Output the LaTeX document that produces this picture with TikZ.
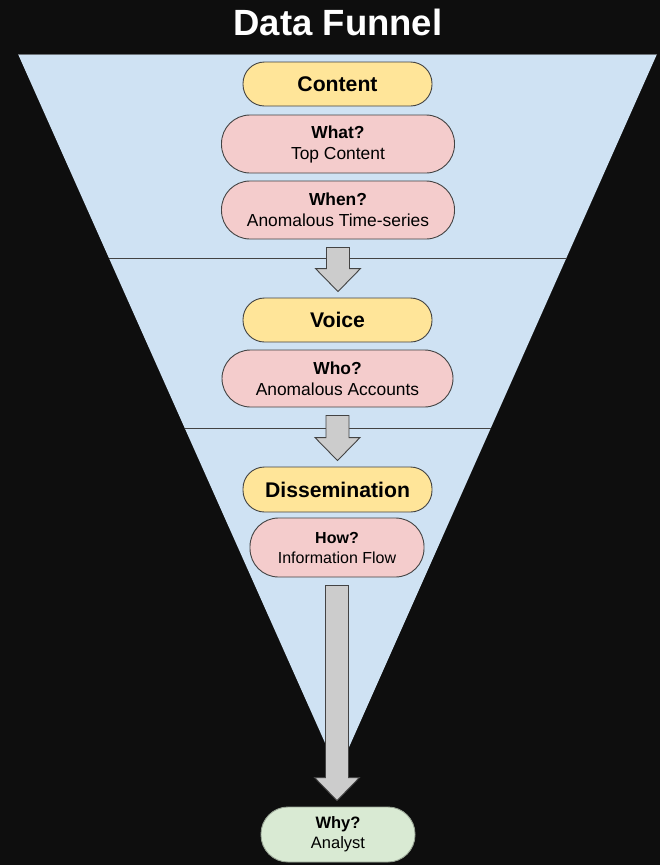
\documentclass[tikz,border=0pt]{standalone}
\usepackage{fontspec}
\setmainfont{Liberation Sans}
\usetikzlibrary{calc}

\definecolor{pagebg}{HTML}{0E0E0E}
\definecolor{funnelblue}{HTML}{CFE2F3}
\definecolor{stageyellow}{HTML}{FFE599}
\definecolor{askpink}{HTML}{F4CCCC}
\definecolor{analystgreen}{HTML}{D9EAD3}
\definecolor{edgegray}{HTML}{434343}
\definecolor{arrowgray}{HTML}{CCCCCC}

\tikzset{
  stagebox/.style={draw=edgegray, line width=0.9pt, fill=stageyellow,
    minimum width=189pt, minimum height=44pt, rounded corners=21.5pt,
    font=\fontsize{21.2}{25}\selectfont\bfseries},
  askbox/.style={draw=edgegray, line width=0.9pt, fill=askpink, align=center,
    minimum width=233pt, minimum height=58pt, rounded corners=28.5pt,
    font=\fontsize{17.4}{21}\selectfont},
  analystbox/.style={askbox, fill=analystgreen, draw=analystgreen!70!black},
  blockarrow/.style={draw=edgegray, line width=0.9pt, fill=arrowgray, line join=miter}
}

% gray block arrow hanging between two stacked nodes
\newcommand{\funnelarrow}[2]{%
  \draw[blockarrow] let \p1=($(#1.south)+(0,8)$), \p2=($(#2.north)+(0,-6)$) in
    (\x1-11.5,\y1) -- (\x1+11.5,\y1) -- (\x1+11.5,\y2+23) -- (\x1+22.5,\y2+23)
    -- (\x1,\y2) -- (\x1-22.5,\y2+23) -- (\x1-11.5,\y2+23) -- cycle;}

\begin{document}
\begin{tikzpicture}[x=1pt, y=-1pt]
  \fill[pagebg] (0,0) rectangle (660,865);
  \useasboundingbox (0,0) rectangle (660,865);

  \node[text=white, font=\fontsize{36.5}{42}\selectfont\bfseries] (title) at (338,22) {Data Funnel};

  % funnel
  \coordinate (topleft) at (18,54);
  \coordinate (topright) at (657,54);
  \coordinate (apex) at (338,772);
  \fill[funnelblue] (topleft) -- (topright) -- (apex) -- cycle;
  \draw[edgegray!70!funnelblue, line width=0.6pt] (topleft) -- (topright);
  \draw[edgegray, line width=1pt] ($(topleft)!0.2855!(apex)$) -- ($(topright)!0.2855!(apex)$);
  \draw[edgegray, line width=1pt] ($(topleft)!0.5209!(apex)$) -- ($(topright)!0.5209!(apex)$);

  % stages
  \node[stagebox] (content) at (337.5,84) {Content};
  \node[askbox] (what) at (338,144) {\textbf{What?}\\Top Content};
  \node[askbox] (when) at (338,210) {\textbf{When?}\\Anomalous Time-series};

  \node[stagebox] (voice) at (337.5,320) {Voice};
  \node[askbox, minimum width=231pt, minimum height=57pt] (who) at (337.5,378.5) {\textbf{Who?}\\Anomalous Accounts};

  \node[stagebox, minimum height=45pt] (dissemination) at (337.5,489.5) {Dissemination};
  \node[askbox, minimum width=174pt, minimum height=59pt, font=\fontsize{16}{20}\selectfont] (how) at (337,547.5) {\textbf{How?}\\Information Flow};

  \node[analystbox, minimum width=154pt, minimum height=55pt, rounded corners=27pt, font=\fontsize{16.5}{20}\selectfont] (why) at (338,834.5) {\textbf{Why?}\\Analyst};

  \funnelarrow{when}{voice}
  \funnelarrow{who}{dissemination}
  \funnelarrow{how}{why}
\end{tikzpicture}
\end{document}
